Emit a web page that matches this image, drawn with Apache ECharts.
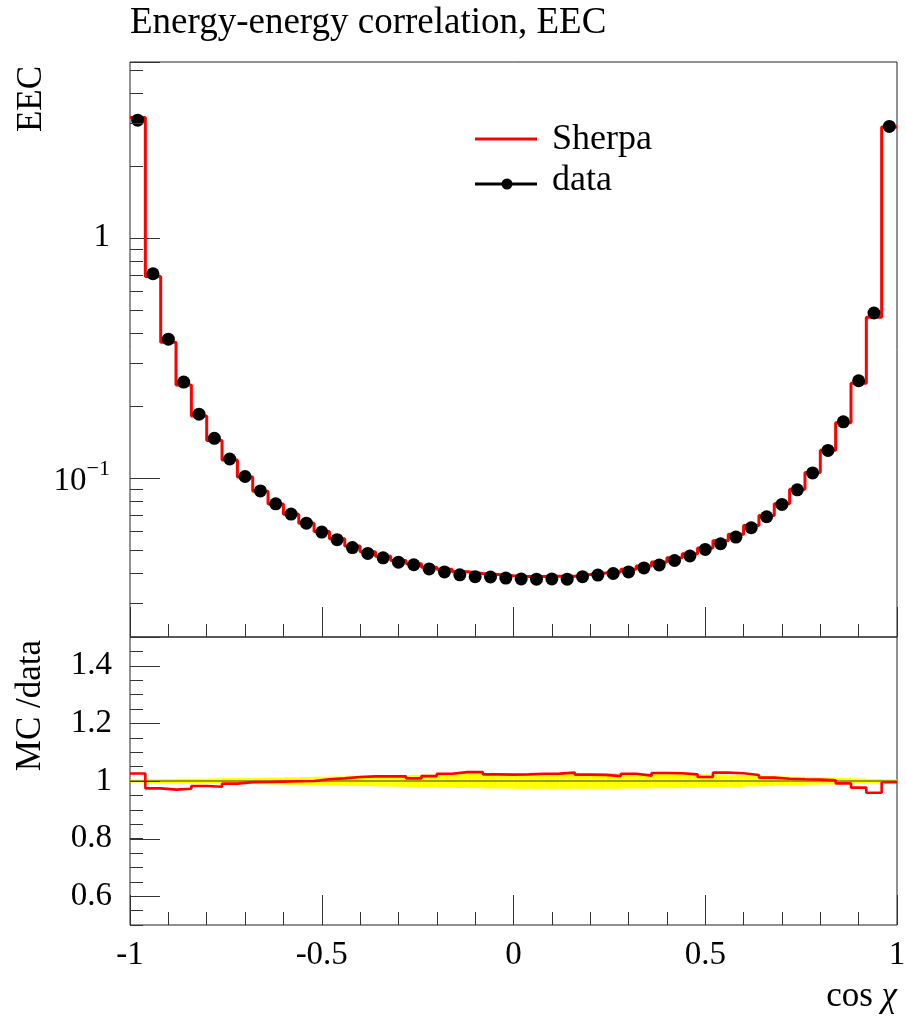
<!DOCTYPE html>
<html><head><meta charset="utf-8">
<script src="https://cdn.jsdelivr.net/npm/echarts@6/dist/echarts.min.js"></script>
<style>html,body{margin:0;padding:0;background:#fff}#c{width:906px;height:1017px}</style>
</head><body><div id="c"></div>
<script>
// ---- data ----
const binRange = [-1, 1];
const nBins = 50;
const dataValues = [3.09, 0.708, 0.378, 0.2505, 0.184, 0.146, 0.1197, 0.1012, 0.0881, 0.0779,
  0.0706, 0.0647, 0.0594, 0.0552, 0.0512, 0.0484, 0.0464, 0.0445, 0.0434, 0.0417,
  0.0405, 0.0394, 0.0387, 0.0386, 0.0382, 0.0379, 0.0378, 0.0379, 0.0378, 0.0387,
  0.0393, 0.0399, 0.0405, 0.0421, 0.0433, 0.0452, 0.0472, 0.0503, 0.0531, 0.0566,
  0.0619, 0.0688, 0.0774, 0.0891, 0.1047, 0.130, 0.171, 0.2536, 0.486, 2.91];
const sherpaValues = [3.170, 0.6899, 0.3667, 0.2437, 0.1808, 0.1431, 0.1186, 0.1008, 0.08779, 0.07774,
  0.07053, 0.0647, 0.05976, 0.05570, 0.05192, 0.04917, 0.04714, 0.04521, 0.04379, 0.04241,
  0.04153, 0.04062, 0.03990, 0.03949, 0.03904, 0.03877, 0.03876, 0.03887, 0.03890, 0.03955,
  0.04013, 0.04058, 0.04153, 0.04288, 0.04451, 0.04642, 0.04829, 0.05100, 0.05464, 0.05813,
  0.06320, 0.06960, 0.07802, 0.08963, 0.1052, 0.1303, 0.1696, 0.2478, 0.4661, 2.897];
const dataRelErr = [0.005, 0.007, 0.007, 0.008, 0.008, 0.009, 0.010, 0.010, 0.011, 0.012,
  0.013, 0.014, 0.015, 0.016, 0.017, 0.018, 0.019, 0.020, 0.021, 0.022,
  0.023, 0.024, 0.025, 0.026, 0.026, 0.027, 0.027, 0.027, 0.027, 0.027,
  0.027, 0.027, 0.026, 0.026, 0.025, 0.025, 0.024, 0.023, 0.022, 0.021,
  0.019, 0.018, 0.016, 0.015, 0.013, 0.012, 0.010, 0.009, 0.007, 0.006];
const mainYRange = [0.0217, 5.4];
const ratioYRange = [0.5, 1.5];
const ratioTickValues = [0.6, 0.8, 1, 1.2, 1.4];
const ratioTickLabels = ['0.6', '0.8', '1', '1.2', '1.4'];
const xTickValues = [-1, -0.5, 0, 0.5, 1];
const xTickLabels = ['-1', '-0.5', '0', '0.5', '1'];

// ---- derived ----
const FONT = 'Liberation Serif';
const FS = 33;
const binWidth = (binRange[1] - binRange[0]) / nBins;
const binLow = dataValues.map((_, i) => binRange[0] + i * binWidth);
const binHigh = binLow.map(v => v + binWidth);
const binCenter = binLow.map(v => v + binWidth / 2);
const ratioValues = sherpaValues.map((s, i) => s / dataValues[i]);
const stepData = vals => vals.map((v, i) => [binLow[i], v]).concat([[binRange[1], vals[vals.length - 1]]]);
const logMinorTicks = [];
for (let e = -2; e <= 0; e++) for (let k = 2; k <= 9; k++) {
  const v = k * Math.pow(10, e);
  if (v > mainYRange[0] && v < mainYRange[1]) logMinorTicks.push(v);
}

function tickSeries(xi, yi, values, len) {
  return {
    type: 'custom', xAxisIndex: xi, yAxisIndex: yi, silent: true, z: 6,
    data: values.map(v => [binRange[0], v]),
    renderItem: (params, api) => {
      const p = api.coord([api.value(0), api.value(1)]);
      const y = Math.round(p[1]) + 0.5;
      return { type: 'line', shape: { x1: p[0], y1: y, x2: p[0] + len, y2: y }, style: { stroke: '#333', lineWidth: 1 } };
    }
  };
}

function xAxisDef(gi, interval, len, labels) {
  return {
    gridIndex: gi, type: 'value', min: binRange[0], max: binRange[1], interval: interval, position: 'bottom',
    axisLine: { show: false, onZero: false }, splitLine: { show: false },
    axisTick: { show: true, inside: true, length: len, lineStyle: { color: '#333', width: 1 } },
    axisLabel: labels ? {
      show: true, fontFamily: FONT, fontSize: FS, color: '#000', margin: 14,
      formatter: v => { const k = xTickValues.findIndex(t => Math.abs(t - v) < 1e-9); return k >= 0 ? xTickLabels[k] : ''; }
    } : { show: false }
  };
}

const chart = echarts.init(document.getElementById('c'));
chart.setOption({
  animation: false,
  backgroundColor: '#fff',
  grid: [
    { left: 130, top: 62, width: 767, height: 575, show: true, borderColor: '#222', borderWidth: 1, outerBoundsMode: 'none' },
    { left: 130, top: 637, width: 767, height: 288, show: true, borderColor: '#222', borderWidth: 1, outerBoundsMode: 'none' }
  ],
  xAxis: [
    xAxisDef(0, 0.1, 13, false),
    xAxisDef(0, 0.5, 30, false),
    xAxisDef(1, 0.1, 13, false),
    xAxisDef(1, 0.5, 30, true)
  ],
  yAxis: [
    {
      gridIndex: 0, type: 'log', logBase: 10, min: mainYRange[0], max: mainYRange[1], position: 'left',
      axisLine: { show: false, onZero: false }, splitLine: { show: false },
      axisTick: { show: true, inside: true, length: 30, lineStyle: { color: '#333', width: 1 } },
      axisLabel: {
        fontFamily: FONT, fontSize: FS, color: '#000', margin: 20,
        formatter: v => {
          if (Math.abs(v - 1) < 1e-9) return '1';
          if (Math.abs(v - 0.1) < 1e-9) return '{b|10}{sup|−1}';
          return '';
        },
        rich: {
          b: { fontFamily: FONT, fontSize: FS, color: '#000', verticalAlign: 'bottom', lineHeight: 40 },
          sup: { fontFamily: FONT, fontSize: 22, color: '#000', verticalAlign: 'top', lineHeight: 22 }
        }
      }
    },
    {
      gridIndex: 1, type: 'value', min: ratioYRange[0], max: ratioYRange[1], interval: 0.05, position: 'left',
      axisLine: { show: false, onZero: false }, splitLine: { show: false },
      axisTick: { show: true, inside: true, length: 13, lineStyle: { color: '#333', width: 1 } },
      axisLabel: {
        fontFamily: FONT, fontSize: FS, color: '#000', margin: 18,
        formatter: v => { const k = ratioTickValues.findIndex(t => Math.abs(t - v) < 1e-6); return k >= 0 ? ratioTickLabels[k] : ''; }
      }
    }
  ],
  graphic: [
    { type: 'text', left: 130, top: 5, style: { text: 'Energy-energy correlation, EEC', font: `37px "${FONT}"`, fill: '#000' } },
    { type: 'text', x: 32, y: 66, rotation: Math.PI / 2, style: { text: 'EEC', font: `35px "${FONT}"`, fill: '#000', align: 'right', verticalAlign: 'middle' } },
    { type: 'text', x: 31, y: 640, rotation: Math.PI / 2, style: { text: 'MC /data', font: `35px "${FONT}"`, fill: '#000', align: 'right', verticalAlign: 'middle' } },
    { type: 'text', x: 897, y: 997, style: { text: '{n|cos }{i|χ}', align: 'right', verticalAlign: 'middle',
      rich: { n: { fontFamily: FONT, fontSize: 35, fill: '#000' }, i: { fontFamily: FONT, fontSize: 35, fontStyle: 'italic', fill: '#000' } } } },
    { type: 'line', shape: { x1: 475, y1: 139, x2: 537, y2: 139 }, style: { stroke: '#ff0000', lineWidth: 3 } },
    { type: 'text', x: 552, y: 140, style: { text: 'Sherpa', font: `36px "${FONT}"`, fill: '#000', verticalAlign: 'middle' } },
    { type: 'line', shape: { x1: 475, y1: 184, x2: 537, y2: 184 }, style: { stroke: '#000', lineWidth: 3 } },
    { type: 'circle', shape: { cx: 507, cy: 184, r: 5.5 }, style: { fill: '#000' } },
    { type: 'text', x: 552, y: 181, style: { text: 'data', font: `36px "${FONT}"`, fill: '#000', verticalAlign: 'middle' } }
  ],
  series: [
    {
      type: 'custom', xAxisIndex: 2, yAxisIndex: 1, silent: true, z: 1,
      data: dataRelErr.map((e, i) => [binLow[i], binHigh[i], 1 - e, 1 + e]),
      encode: { x: [0, 1], y: [2, 3] },
      renderItem: (params, api) => {
        const a = api.coord([api.value(0), api.value(3)]);
        const b = api.coord([api.value(1), api.value(2)]);
        return { type: 'rect', shape: { x: a[0], y: a[1], width: b[0] - a[0], height: b[1] - a[1] }, style: { fill: '#ffff00' } };
      }
    },
    {
      type: 'line', xAxisIndex: 2, yAxisIndex: 1, silent: true, z: 2, symbol: 'none',
      data: [[binRange[0], 1], [binRange[1], 1]], lineStyle: { color: 'rgba(0,0,0,0.75)', width: 1.2 }
    },
    {
      type: 'line', xAxisIndex: 2, yAxisIndex: 1, silent: true, z: 3, symbol: 'none', step: 'end',
      data: stepData(ratioValues), lineStyle: { color: '#ff0000', width: 2.6 }
    },
    {
      name: 'Sherpa', type: 'line', xAxisIndex: 0, yAxisIndex: 0, silent: true, z: 3, symbol: 'none', step: 'end',
      data: stepData(sherpaValues), lineStyle: { color: '#ff0000', width: 3 }
    },
    {
      name: 'data', type: 'scatter', xAxisIndex: 0, yAxisIndex: 0, silent: true, z: 4,
      symbol: 'circle', symbolSize: 13, itemStyle: { color: '#000', opacity: 1 },
      data: dataValues.map((v, i) => [binCenter[i], v])
    },
    tickSeries(0, 0, logMinorTicks, 13),
    tickSeries(2, 1, ratioTickValues, 30)
  ]
});
</script></body></html>
